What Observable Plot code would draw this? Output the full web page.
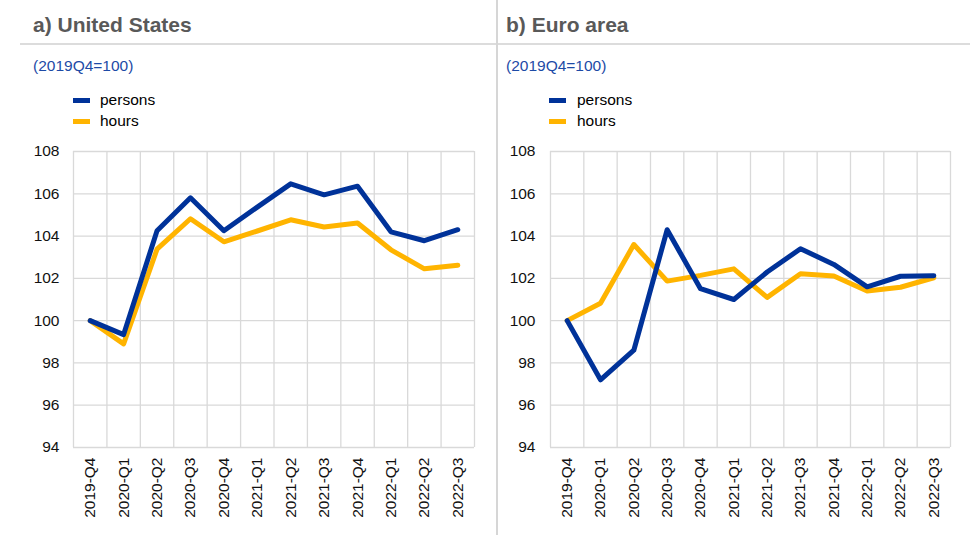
<!DOCTYPE html>
<html><head><meta charset="utf-8">
<script src="https://cdn.jsdelivr.net/npm/d3@7"></script>
<script src="https://cdn.jsdelivr.net/npm/@observablehq/plot@0.6"></script>
<style>
body{margin:0;background:#fff;font-family:Arial,"Liberation Sans",sans-serif;}
#root{position:relative;width:970px;height:542px;overflow:hidden;background:#fff;}
.abs{position:absolute;}
.title{font-size:21px;font-weight:bold;color:#595959;white-space:nowrap;line-height:1;}
.sub{font-size:15.5px;color:#1d4aa6;white-space:nowrap;line-height:1;}
.leg{font-size:15.5px;color:#000;white-space:nowrap;line-height:1;}
.sw{position:absolute;width:17px;height:5px;}
.hline{position:absolute;left:20px;top:43px;width:950px;height:2px;background:#dcdcdc;}
.vline{position:absolute;left:496px;top:0;width:1.5px;height:535px;background:#d6d6d6;}
</style></head><body><div id="root"></div>
<script>
const quarters = ["2019-Q4","2020-Q1","2020-Q2","2020-Q3","2020-Q4","2021-Q1","2021-Q2","2021-Q3","2021-Q4","2022-Q1","2022-Q2","2022-Q3"];
const usPersons = [100, 99.34, 104.25, 105.81, 104.25, 105.37, 106.47, 105.95, 106.36, 104.2, 103.78, 104.3];
const usHours   = [100, 98.9, 103.38, 104.82, 103.73, 104.24, 104.77, 104.43, 104.62, 103.35, 102.45, 102.62];
const eaPersons = [100, 97.2, 98.6, 104.3, 101.51, 101.0, 102.3, 103.4, 102.66, 101.6, 102.1, 102.12];
const eaHours   = [100, 100.82, 103.6, 101.87, 102.14, 102.45, 101.1, 102.22, 102.11, 101.4, 101.58, 102.03];
const yTicks = [94, 96, 98, 100, 102, 104, 106, 108];
const seriesNames = ["persons", "hours"];
const seriesColors = ["#003299", "#ffb400"];
const panels = [
  {title: "a) United States", sub: "(2019Q4=100)", persons: usPersons, hours: usHours},
  {title: "b) Euro area", sub: "(2019Q4=100)", persons: eaPersons, hours: eaHours}
];

const root = document.getElementById("root");
root.insertAdjacentHTML("beforeend", '<div class="hline"></div><div class="vline"></div>');

const layout = [
  {left: 0, textX: 33, swX: 73, legX: 100, mL: 73, mR: 11, pad: 14},
  {left: 485, textX: 506, swX: 549, legX: 577, mL: 65, mR: 20, pad: 15}
];

panels.forEach((p, k) => {
  const L = layout[k];
  root.insertAdjacentHTML("beforeend",
    `<div class="abs title" style="left:${L.textX}px;top:14px">${p.title}</div>` +
    `<div class="abs sub" style="left:${L.textX}px;top:58px">${p.sub}</div>`);
  seriesNames.forEach((n, j) => {
    const cy = 100 + j * 21;
    root.insertAdjacentHTML("beforeend",
      `<div class="sw" style="left:${L.swX}px;top:${cy - 2.5}px;background:${seriesColors[j]}"></div>` +
      `<div class="abs leg" style="left:${L.legX}px;top:${cy - 8}px">${n}</div>`);
  });
  const data = [];
  quarters.forEach((q, i) => {
    data.push({i, series: "persons", value: p.persons[i]});
    data.push({i, series: "hours", value: p.hours[i]});
  });
  const chart = Plot.plot({
    width: 485,
    height: 402,
    marginTop: 11,
    marginBottom: 95,
    marginLeft: L.mL,
    marginRight: L.mR,
    style: {fontSize: "15.5px", fontFamily: "Arial, 'Liberation Sans', sans-serif", color: "#111", background: "transparent", overflow: "visible"},
    x: {type: "linear", domain: [-0.5, quarters.length - 0.5]},
    y: {domain: [94, 108]},
    color: {domain: seriesNames, range: seriesColors},
    marks: [
      Plot.gridY(yTicks, {stroke: "#d9d9d9", strokeOpacity: 1, strokeWidth: 1.3}),
      Plot.ruleX(d3.range(quarters.length + 1), {x: d => d - 0.5, stroke: "#d9d9d9", strokeOpacity: 1, strokeWidth: 1.3}),
      Plot.axisY(yTicks, {tickSize: 0, tickPadding: L.pad, label: null}),
      Plot.axisX(d3.range(quarters.length), {tickFormat: i => quarters[i], tickRotate: -90, tickSize: 0, tickPadding: 10, label: null}),
      Plot.line(data.filter(d => d.series === "hours"), {x: "i", y: "value", stroke: "series", strokeWidth: 5}),
      Plot.line(data.filter(d => d.series === "persons"), {x: "i", y: "value", stroke: "series", strokeWidth: 5})
    ]
  });
  chart.style.position = "absolute";
  chart.style.left = L.left + "px";
  chart.style.top = "140px";
  root.appendChild(chart);
});
</script></body></html>
